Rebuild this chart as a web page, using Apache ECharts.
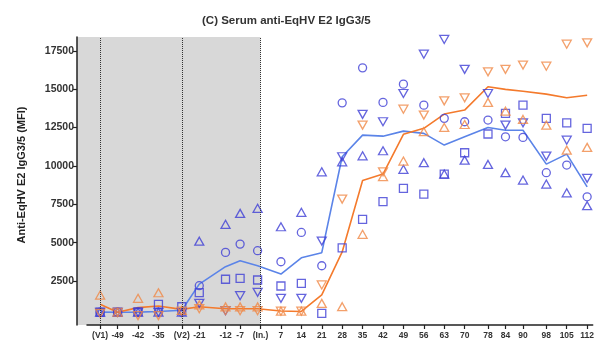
<!DOCTYPE html>
<html>
<head>
<meta charset="utf-8">
<script src="https://cdn.jsdelivr.net/npm/echarts@6/dist/echarts.min.js"></script>
<style>
  html, body { margin: 0; padding: 0; background: #fff; }
  #chart { width: 597px; height: 345px; }
</style>
</head>
<body>
<div id="chart"></div>
<script>
// sampling days, (V1) = -55, (V2) = -27, (In.) = 0
var days = [-55, -49, -42, -35, -27, -21, -12, -7, -1, 7, 14, 21, 28, 35, 42, 49, 56, 63, 70, 78, 84, 90, 98, 105, 112];
var tickDays = [-55, -49, -42, -35, -27, -21, -12, -7, 0, 7, 14, 21, 28, 35, 42, 49, 56, 63, 70, 78, 84, 90, 98, 105, 112];
var tickLabels = ['(V1)', '-49', '-42', '-35', '(V2)', '-21', '-12', '-7', '(In.)', '7', '14', '21', '28', '35', '42', '49', '56', '63', '70', '78', '84', '90', '98', '105', '112'];
var yTicks = [2500, 5000, 7500, 10000, 12500, 15000, 17500];
var vaccineDays = [-55, -27, 0];

// blue group, one array per animal + group line
var blueCircle = [470, 470, 470, 470, 470, 2200, 4370, 4910, 4480, 3760, 5670, 3500, 14110, 16390, 14140, 15330, 13960, 13100, 12880, 12990, 11900, 11860, 9560, 10060, 7990];
var blueSquare = [470, 470, 500, 990, 830, 1750, 2620, 2680, 2570, 2180, 2350, 400, 4670, 6520, 7670, 8540, 8170, 9470, 10860, 12080, 13420, 13960, 13100, 12810, 12450];
var blueUp = [470, 470, 470, 470, 470, 5100, 6200, 6910, 7240, 6040, 6980, 9620, 10270, 10660, 10990, 9780, 10210, 9470, 10380, 10100, 9560, 9080, 8820, 8250, 7410];
var blueDown = [470, 470, 470, 470, 470, 1050, 570, 1550, 1770, 1380, 1380, 5110, 10600, 13360, 12880, 14720, 17280, 18240, 16290, 14720, 12660, 12810, 10640, 11680, 9190];
var blueLine = [480, 470, 480, 520, 600, 2300, 3440, 3830, 3500, 2960, 4020, 4350, 10600, 12010, 11940, 12270, 12120, 11360, 11900, 12510, 12330, 12330, 10120, 10770, 8640];

// orange group
var orangeUp = [1590, 470, 1380, 1740, 600, 950, 820, 820, 820, 540, 540, 1050, 830, 5550, 9300, 10320, 12230, 12510, 12700, 14140, 13570, 13030, 12660, 11030, 11210];
var orangeDown = [400, 470, 250, 250, 550, 700, 570, 570, 570, 540, 540, 2250, 7840, 12660, 9620, 13700, 13310, 14240, 14440, 16130, 16290, 16570, 16500, 17930, 18020];
var orangeLine = [990, 470, 770, 880, 660, 830, 700, 700, 700, 550, 520, 1600, 4400, 9050, 9470, 12060, 12450, 13380, 13640, 15160, 14990, 14870, 14680, 14440, 14610];

var blueMark = '#3f3fd6';
var blueStroke = '#5b84e8';
var orangeMark = '#f08846';
var orangeStroke = '#f47a2c';
var font = '"Liberation Sans", Arial, sans-serif';

function pairs(vals) {
  return vals.map(function (v, i) { return [days[i], v]; });
}

function dots(name, vals, color, symbol, rotate) {
  return {
    name: name,
    type: 'scatter',
    data: pairs(vals),
    symbol: symbol,
    symbolRotate: rotate || 0,
    symbolSize: symbol === 'triangle' ? [9, 8] : 8,
    itemStyle: { color: 'rgba(0,0,0,0)', borderColor: color, borderWidth: 1.3 },
    silent: true,
    z: 3
  };
}

function meanLine(name, vals, color) {
  return {
    name: name,
    type: 'line',
    data: pairs(vals),
    showSymbol: false,
    lineStyle: { color: color, width: 1.6 },
    silent: true,
    z: 2
  };
}

var chart = echarts.init(document.getElementById('chart'));

var option = {
  animation: false,
  title: {
    text: '(C) Serum anti-EqHV E2 IgG3/5',
    left: 197,
    top: 10,
    textStyle: { fontFamily: font, fontSize: 11.5, fontWeight: 'bold', color: '#333' }
  },
  grid: { left: 87, right: 0, top: 37, bottom: 20 },
  xAxis: {
    type: 'value',
    min: -59.5,
    max: 113.9,
    axisLine: { onZero: false, lineStyle: { color: '#222', width: 1.5 } },
    axisTick: { customValues: tickDays, length: 4, lineStyle: { color: '#222', width: 1.2 } },
    axisLabel: {
      customValues: tickDays,
      formatter: function (v) { return tickLabels[tickDays.indexOf(v)]; },
      fontFamily: font, fontSize: 8.5, fontWeight: 'bold', color: '#333', margin: 6
    },
    splitLine: { show: false }
  },
  yAxis: {
    type: 'value',
    min: -360,
    max: 18400,
    offset: 10,
    name: 'Anti-EqHV E2 IgG3/5 (MFI)',
    nameLocation: 'middle',
    nameGap: 50,
    nameTextStyle: { fontFamily: font, fontSize: 11, fontWeight: 'bold', color: '#222', padding: [0, 0, 0, 12] },
    axisLine: { show: true, onZero: false, lineStyle: { color: '#222', width: 1.5 } },
    axisTick: { show: true, customValues: yTicks, length: 4, lineStyle: { color: '#222', width: 1.2 } },
    axisLabel: {
      customValues: yTicks,
      formatter: function (v) { return String(v); },
      fontFamily: font, fontSize: 10.5, fontWeight: 'bold', color: '#333', margin: 3
    },
    splitLine: { show: false }
  },
  series: [
    Object.assign(meanLine('blue mean', blueLine, blueStroke), {
      markLine: {
        silent: true,
        symbol: ['none', 'none'],
        label: { show: false },
        lineStyle: { type: 'dotted', color: '#333', width: 1 },
        data: vaccineDays.map(function (d) { return { xAxis: d }; })
      }
    }),
    meanLine('orange mean', orangeLine, orangeStroke),
    dots('blue circle', blueCircle, blueMark, 'circle'),
    dots('blue square', blueSquare, blueMark, 'rect'),
    dots('blue up', blueUp, blueMark, 'triangle'),
    dots('blue down', blueDown, blueMark, 'triangle', 180),
    dots('orange up', orangeUp, orangeMark, 'triangle'),
    dots('orange down', orangeDown, orangeMark, 'triangle', 180)
  ]
};

chart.setOption(option);

// grey pre-challenge band, from the y axis line to day 0
var topLeft = chart.convertToPixel({ gridIndex: 0 }, [-59.5, 18400]);
var botRight = chart.convertToPixel({ gridIndex: 0 }, [0, -360]);
chart.setOption({
  graphic: [{
    type: 'rect',
    z: -10,
    silent: true,
    shape: { x: topLeft[0] - 10, y: topLeft[1], width: botRight[0] - topLeft[0] + 10, height: botRight[1] - topLeft[1] },
    style: { fill: '#d8d8d8' }
  }]
});
</script>
</body>
</html>
